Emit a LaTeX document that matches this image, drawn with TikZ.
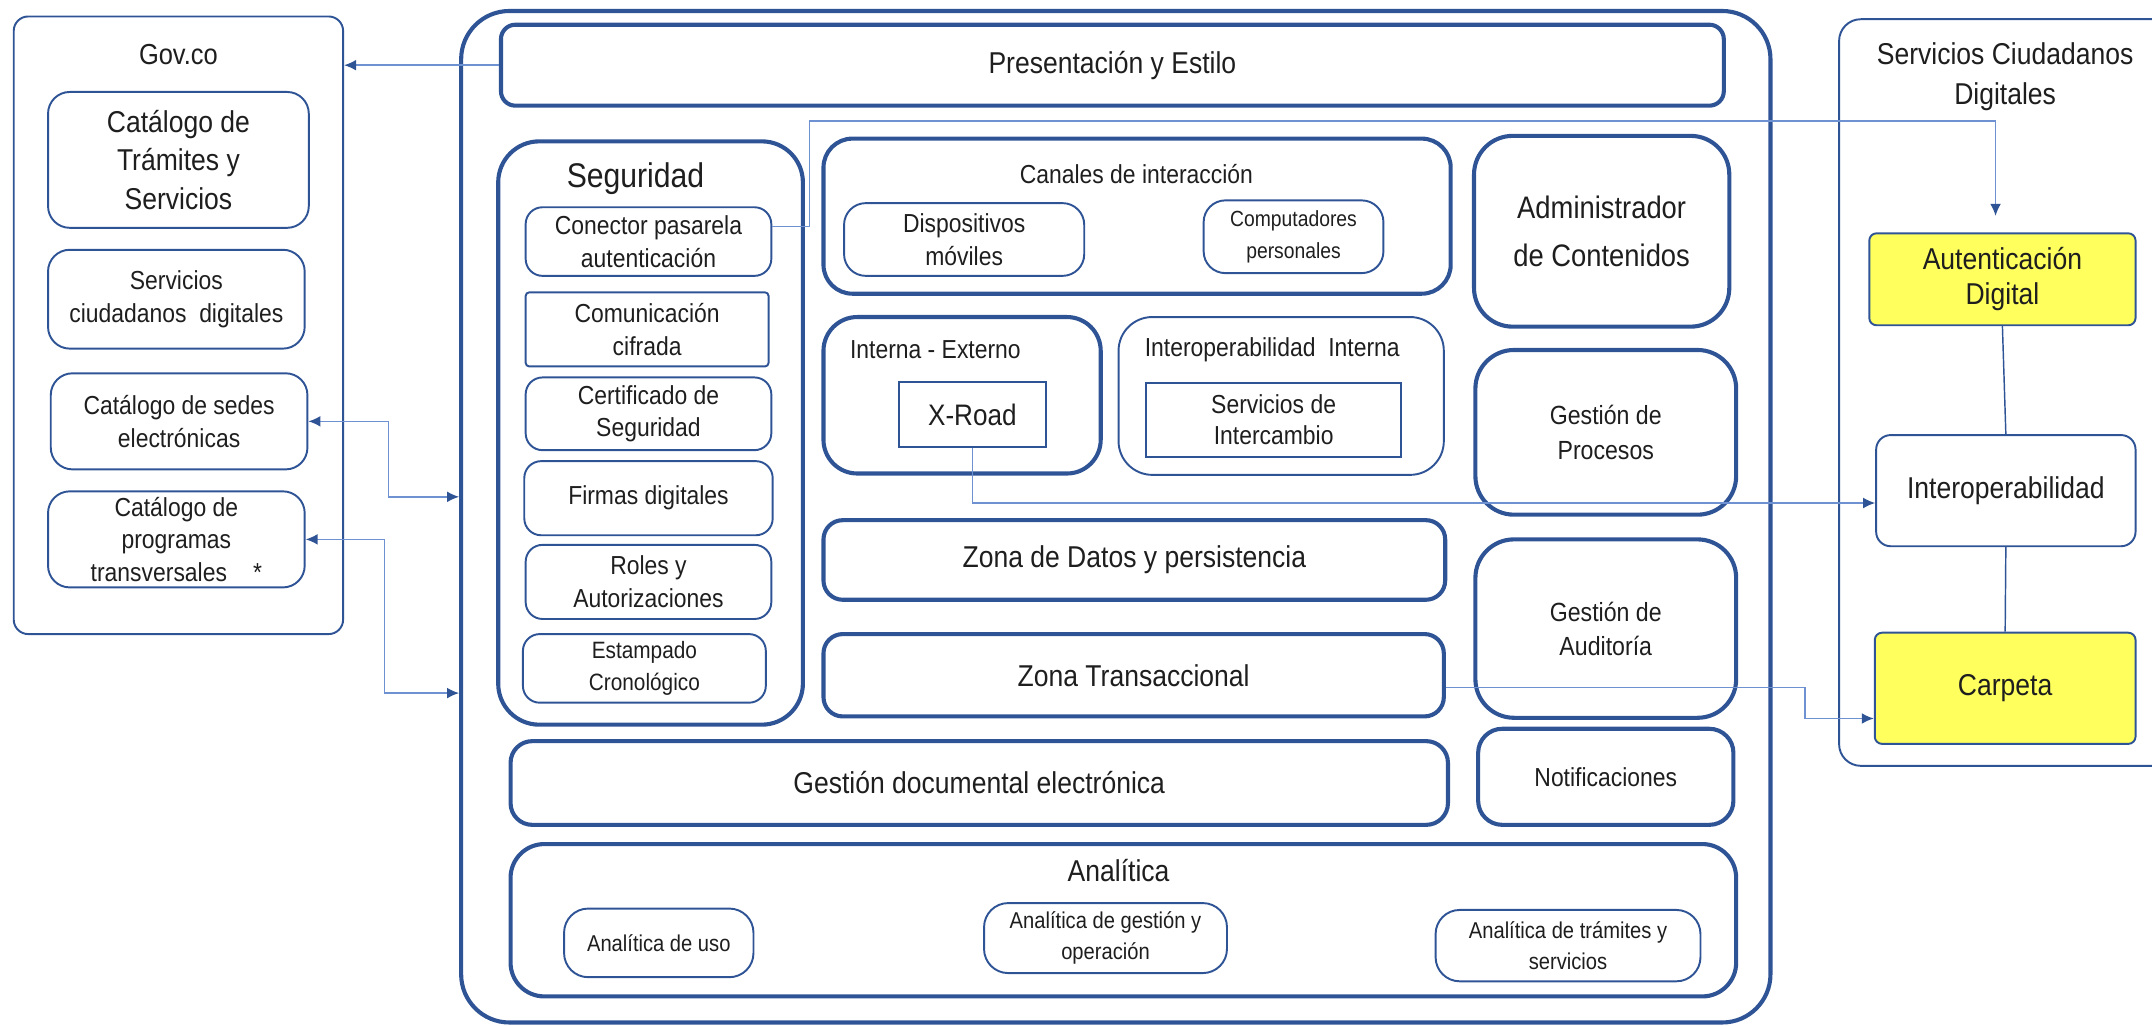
\documentclass[tikz,border=0pt]{standalone}
\usepackage{fontspec}
\setmainfont{Liberation Sans}[FakeStretch=0.88]
\usetikzlibrary{arrows.meta,calc}

\definecolor{govblue}{RGB}{47,84,150}
\definecolor{lineblue}{RGB}{110,145,210}
\definecolor{autyellow}{RGB}{255,255,94}
\definecolor{txtgray}{RGB}{30,30,30}

\newlength\unitpx
\setlength\unitpx{0.02cm}

\newcommand\fbig{\fontsize{12.5}{15.5}\selectfont}
\newcommand\fmid{\fontsize{10.8}{13.5}\selectfont}
\newcommand\fsmall{\fontsize{9.5}{13}\selectfont}

\tikzset{
  size/.style 2 args={minimum width=#1\unitpx, minimum height=#2\unitpx},
  layer/.style={draw=govblue, line width=1.7pt, rounded corners=8pt, align=center, inner sep=0pt, text=txtgray, font=\fbig},
  item/.style={draw=govblue, line width=0.8pt, rounded corners=7pt, align=center, inner sep=0pt, text=txtgray, font=\fmid},
  title/.style={inner sep=0pt, text=txtgray, align=center},
  link/.style={draw=lineblue, line width=0.6pt, -{Latex[length=5pt,width=4.5pt,color=govblue]}},
  duallink/.style={link, {Latex[length=5pt,width=4.5pt,color=govblue]}-{Latex[length=5pt,width=4.5pt,color=govblue]}},
  plain/.style={draw=govblue, line width=0.6pt},
}

\begin{document}
\begin{tikzpicture}[x=0.02cm, y=-0.02cm]
    \useasboundingbox (0,0) rectangle (1568,747);
    \clip (0,0) rectangle (1568,747);

    % Gov.co
    \node[item, rounded corners=6pt, size={240}{450}] (gov) at (130,237) {};
    \node[title, font=\fontsize{12}{14}\selectfont] (govT) at (130,40) {Gov.co};
    \node[item, rounded corners=9pt, font=\fontsize{12.5}{15.9}\selectfont, size={190}{99}] (cat) at (130,116.5) {Catálogo de\\Trámites y\\Servicios};
    \node[item, rounded corners=9pt, size={187}{72}] (scd) at (128.5,218) {Servicios\\ciudadanos\ \ digitales};
    \node[item, rounded corners=9pt, size={187}{70}] (sedes) at (130.5,307) {Catálogo de sedes\\electrónicas};
    \node[item, rounded corners=9pt, size={187}{70}] (prog) at (128.5,393) {Catálogo de\\programas\\transversales\quad*};

    % main frame
    \node[draw=govblue, line width=1.7pt, rounded corners=20pt, size={954}{737}] (main) at (813,376.5) {};
    \node[layer, rounded corners=6pt, size={891}{59}] (pres) at (810.5,47.5) {Presentación y Estilo};

    % Seguridad
    \node[layer, rounded corners=17pt, size={222}{425}] (seg) at (474,315.5) {};
    \node[title, font=\fontsize{14.2}{16}\selectfont] (segT) at (463,130) {Seguridad};
    \node[item, size={179}{50}] (con) at (472.5,176) {Conector pasarela\\autenticación};
    \node[item, rounded corners=1.5pt, size={177}{54}] (cif) at (471.5,240) {Comunicación\\cifrada};
    \node[item, size={179}{53}] (cert) at (472.5,301.5) {Certificado de\\Seguridad};
    \node[item, size={181}{54}] (firm) at (472.5,363) {Firmas digitales};
    \node[item, size={179}{54}] (rol) at (472.5,424) {Roles y\\Autorizaciones};
    \node[item, font=\fontsize{9.8}{13.5}\selectfont, size={177}{50}] (est) at (469.5,487) {Estampado\\Cronológico};

    % Canales
    \node[layer, rounded corners=12pt, size={457}{113}] (can) at (828.5,157.5) {};
    \node[title, font=\fmid] (canT) at (828,127) {Canales de interacción};
    \node[item, rounded corners=9pt, size={175}{53}] (disp) at (702.5,174.5) {Dispositivos\\móviles};
    \node[item, rounded corners=9pt, font=\fontsize{9.1}{13}\selectfont, size={131}{53}] (comp) at (942.5,172.5) {Computadores\\personales};

    % Interna - Externo
    \node[layer, rounded corners=14pt, size={202}{114}] (ie) at (701,288) {};
    \node[title, font=\fmid, anchor=west] (ieT) at (619,255) {Interna - Externo};
    \node[item, rounded corners=0pt, font=\fontsize{12.3}{14}\selectfont, size={107}{48}] (xroad) at (708.5,302) {X-Road};

    % Interoperabilidad Interna
    \node[item, rounded corners=14pt, size={237}{115}] (ii) at (933.5,288.5) {};
    \node[title, font=\fmid] (iiT) at (927,255) {Interoperabilidad\ \ Interna};
    \node[item, rounded corners=0pt, font=\fontsize{10.8}{12.8}\selectfont, size={186}{54}] (inter) at (928,306) {Servicios de\\Intercambio};

    % zonas
    \node[layer, size={453}{58}] (zdat) at (826.5,408) {Zona de Datos y persistencia};
    \node[layer, size={452}{60}] (ztr) at (826,492) {Zona Transaccional};
    \node[layer, rounded corners=9pt, size={683}{61}] (gdoc) at (713.5,570.5) {Gestión documental electrónica};

    % Analitica
    \node[layer, rounded corners=14pt, size={893}{111}] (ana) at (818.5,670.5) {};
    \node[title, font=\fbig] (anaT) at (815,634) {Analítica};
    \node[item, rounded corners=10pt, font=\fsmall, size={138}{50}] (uso) at (480,687) {Analítica de uso};
    \node[item, rounded corners=10pt, font=\fsmall, size={177}{51}] (gop) at (805.5,683.5) {Analítica de gestión y\\operación};
    \node[item, rounded corners=10pt, font=\fsmall, size={193}{52}] (tys) at (1142.5,689) {Analítica de trámites y\\servicios};

    % right column
    \node[layer, rounded corners=16pt, font=\fontsize{12.9}{20}\selectfont, size={186}{139}] (admin) at (1167,168.5) {Administrador\\de Contenidos};
    \node[layer, rounded corners=16pt, font=\fontsize{10.9}{14.7}\selectfont, size={190}{120}] (proc) at (1170,315) {Gestión de\\Procesos};
    \node[layer, rounded corners=16pt, font=\fontsize{10.9}{14.2}\selectfont, size={190}{130}] (aud) at (1170,458) {Gestión de\\Auditoría};
    \node[layer, rounded corners=10pt, font=\fmid, size={186}{70}] (notif) at (1170,566) {Notificaciones};

    % Servicios Ciudadanos Digitales (frame runs past the right edge)
    \draw[govblue, line width=0.8pt, rounded corners=9pt] (1620,14) -- (1340,14) -- (1340,558) -- (1620,558);
    \node[title, font=\fontsize{12.5}{16.4}\selectfont] (scdT) at (1461,56) {Servicios Ciudadanos\\Digitales};
    \node[item, fill=autyellow, rounded corners=3pt, font=\fontsize{12.5}{14.7}\selectfont, size={194}{67}] (aut) at (1459,203.5) {Autenticación\\Digital};
    \node[item, rounded corners=6pt, font=\fbig, size={189}{81}] (iop) at (1461.5,357.5) {Interoperabilidad};
    \node[item, fill=autyellow, rounded corners=3pt, font=\fbig, size={190}{81}] (carp) at (1461,501.5) {Carpeta};

    % connectors
    \draw[link] (pres.west) -- (pres.west -| gov.east);
    \coordinate (turn1) at (590,88);
    \draw[link, shorten >=12\unitpx] ($(con.east)+(0,-11)$) -| (turn1) -| ($(aut.north)+(-5,0)$);
    \draw[link] (xroad.south) |- ($(iop.west)+(0,9)$);
    \coordinate (turn3) at (1315,501);
    \draw[link] (ztr.east |- turn3) -- (turn3) |- ($(carp.west)+(0,22)$);
    \draw[plain] (aut.south) -- (iop.north);
    \draw[plain] (iop.south) -- (carp.north);
    \coordinate (turn4) at (283,362);
    \draw[duallink] (sedes.east) -| (turn4) -- (turn4 -| main.west);
    \coordinate (turn5) at (280,505);
    \draw[duallink] (prog.east) -| (turn5) -- (turn5 -| main.west);
\end{tikzpicture}
\end{document}
